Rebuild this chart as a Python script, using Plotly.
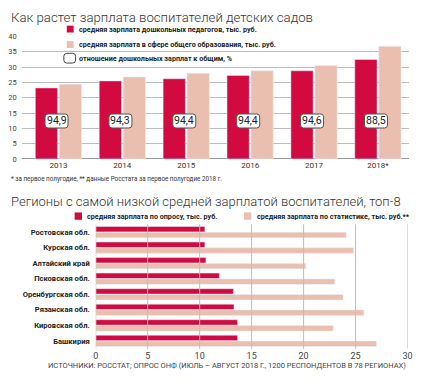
import plotly.graph_objects as go

# ---------- data ----------
years = ["2013", "2014", "2015", "2016", "2017", "2018*"]
preschool_salary = [23.2, 25.5, 26.2, 27.3, 28.8, 32.5]
general_salary = [24.4, 26.8, 28.0, 28.8, 30.5, 36.8]
ratio_labels = ["94,9", "94,3", "94,4", "94,4", "94,6", "88,5"]

regions = ["Ростовская обл.", "Курская обл.", "Алтайский край", "Псковская обл.",
           "Оренбургская обл.", "Рязанская обл.", "Кировская обл.", "Башкирия"]
survey_salary = [10.5, 10.5, 10.6, 11.9, 13.25, 13.3, 13.65, 13.65]
stat_salary = [24.1, 24.8, 20.2, 23.0, 23.8, 25.8, 22.85, 27.0]

RED = "#D20A3F"
PINK = "#EBBFAF"
GRID = "#BDBDBD"
TXT = "#333333"
FONT = "Roboto"

W, H = 425, 380


def fy(px):
    return 1 - px / H


def fx(px):
    return px / W


fig = go.Figure()

# top chart
fig.add_trace(go.Bar(x=years, y=preschool_salary, marker_color=RED, xaxis="x", yaxis="y",
                     showlegend=False, hoverinfo="x+y"))
fig.add_trace(go.Bar(x=years, y=general_salary, marker_color=PINK, xaxis="x", yaxis="y",
                     showlegend=False, hoverinfo="x+y"))

# bottom chart
fig.add_trace(go.Bar(y=regions, x=survey_salary, orientation="h", marker_color=RED,
                     xaxis="x2", yaxis="y2", showlegend=False))
fig.add_trace(go.Bar(y=regions, x=stat_salary, orientation="h", marker_color=PINK,
                     xaxis="x2", yaxis="y2", showlegend=False))

shapes = []
annotations = []

# ratio boxes (rounded)
bw, bh, r = 11.5, 7, 3
path = (f"M {-bw+r},{-bh} L {bw-r},{-bh} Q {bw},{-bh} {bw},{-bh+r} L {bw},{bh-r} "
        f"Q {bw},{bh} {bw-r},{bh} L {-bw+r},{bh} Q {-bw},{bh} {-bw},{bh-r} "
        f"L {-bw},{-bh+r} Q {-bw},{-bh} {-bw+r},{-bh} Z")
for i, lab in enumerate(ratio_labels):
    shapes.append(dict(type="path", xref="x", yref="y", xsizemode="pixel", ysizemode="pixel",
                       xanchor=i - 0.03, yanchor=12.4, path=path,
                       line=dict(color="#555555", width=1), fillcolor="white", layer="above"))
    annotations.append(dict(x=i - 0.03, y=12.4, xref="x", yref="y", text=lab, showarrow=False,
                            font=dict(family=FONT, size=10.5, color="#222222")))

# bottom gridlines above bars
for v in range(0, 31, 5):
    shapes.append(dict(type="line", xref="x2", yref="paper", x0=v, x1=v,
                       y0=fy(353), y1=fy(225.7), line=dict(color=GRID, width=1), layer="above"))

# titles
annotations.append(dict(x=fx(6), y=fy(13.5), xref="paper", yref="paper", xanchor="left",
                        yanchor="middle", showarrow=False,
                        text="Как растет зарплата воспитателей детских садов",
                        font=dict(family=FONT, size=13.2, color=TXT, weight=300)))
annotations.append(dict(x=fx(6), y=fy(202), xref="paper", yref="paper", xanchor="left",
                        yanchor="middle", showarrow=False,
                        text="Регионы с самой низкой средней зарплатой воспитателей, топ-8",
                        font=dict(family=FONT, size=13.0, color=TXT, weight=300)))

LEGSZ = 7.2
# top legend
leg_items = [("средняя зарплата дошкольных педагогов, тыс. руб.", RED, 25.7),
             ("средняя зарплата в сфере общего образования, тыс. руб.", PINK, 41.5)]
for txt, col, yc in leg_items:
    shapes.append(dict(type="rect", xref="paper", yref="paper", x0=fx(65), x1=fx(72),
                       y0=fy(yc + 3.5), y1=fy(yc - 3.5), fillcolor=col, line=dict(width=0)))
    annotations.append(dict(x=fx(75), y=fy(yc), xref="paper", yref="paper", xanchor="left",
                            yanchor="middle", showarrow=False, text=txt,
                            font=dict(family=FONT, size=LEGSZ, color="#222222", weight=700)))
yc = 55.5
x0p, x1p, y0p, y1p = 62, 74, yc - 5, yc + 5
rr = 3
shapes.append(dict(type="path", xref="paper", yref="paper",
                   path=(f"M {fx(x0p+rr)},{fy(y0p)} L {fx(x1p-rr)},{fy(y0p)} Q {fx(x1p)},{fy(y0p)} {fx(x1p)},{fy(y0p+rr)} "
                         f"L {fx(x1p)},{fy(y1p-rr)} Q {fx(x1p)},{fy(y1p)} {fx(x1p-rr)},{fy(y1p)} "
                         f"L {fx(x0p+rr)},{fy(y1p)} Q {fx(x0p)},{fy(y1p)} {fx(x0p)},{fy(y1p-rr)} "
                         f"L {fx(x0p)},{fy(y0p+rr)} Q {fx(x0p)},{fy(y0p)} {fx(x0p+rr)},{fy(y0p)} Z"),
                   line=dict(color="#444444", width=1), fillcolor="white"))
annotations.append(dict(x=fx(75), y=fy(yc), xref="paper", yref="paper", xanchor="left",
                        yanchor="middle", showarrow=False,
                        text="отношение дошкольных зарплат к общим, %",
                        font=dict(family=FONT, size=LEGSZ, color="#222222", weight=700)))

# bottom legend
for txt, col, xs in [("средняя зарплата по опросу, тыс. руб.", RED, 73),
                     ("средняя зарплата по статистике, тыс. руб.**", PINK, 245.5)]:
    shapes.append(dict(type="rect", xref="paper", yref="paper", x0=fx(xs), x1=fx(xs + 7.5),
                       y0=fy(221), y1=fy(213.5), fillcolor=col, line=dict(width=0)))
    annotations.append(dict(x=fx(xs + 11), y=fy(217.3), xref="paper", yref="paper",
                            xanchor="left", yanchor="middle", showarrow=False, text=txt,
                            font=dict(family=FONT, size=LEGSZ, color="#222222", weight=700)))

# footnote & source
annotations.append(dict(x=fx(6), y=fy(179), xref="paper", yref="paper", xanchor="left",
                        yanchor="middle", showarrow=False,
                        text="* за первое полугодие, ** данные Росстата за первое полугодие 2018 г.",
                        font=dict(family=FONT, size=6.3, color="#333333")))
annotations.append(dict(x=fx(412.5), y=fy(370), xref="paper", yref="paper", xanchor="right",
                        yanchor="middle", showarrow=False,
                        text="ИСТОЧНИКИ: РОССТАТ; ОПРОС ОНФ (ИЮЛЬ – АВГУСТ 2018 Г., 1200 РЕСПОНДЕНТОВ В 78 РЕГИОНАХ)",
                        font=dict(family=FONT, size=7.5, color="#444444")))

fig.update_layout(
    width=W, height=H, margin=dict(l=0, r=0, t=0, b=0),
    paper_bgcolor="white", plot_bgcolor="white",
    barmode="group", bargap=0.25, bargroupgap=0.07,
    font=dict(family=FONT, color=TXT),
    shapes=shapes, annotations=annotations,
    xaxis=dict(domain=[fx(19), fx(414)], anchor="y", type="category",
               range=[-0.576, 5.49], showgrid=False, showline=False, ticks="",
               tickfont=dict(size=8, color="#333333"), fixedrange=True),
    yaxis=dict(domain=[fy(158.7), fy(33.3)], anchor="x", range=[0, 40], dtick=5,
               showgrid=True, gridcolor=GRID, gridwidth=1, zeroline=True, zerolinecolor="#999999",
               zerolinewidth=1, ticks="", ticklabelstandoff=4,
               tickfont=dict(size=7.5, color="#444444"), fixedrange=True),
    xaxis2=dict(domain=[fx(94.5), fx(412.3)], anchor="y2", range=[0, 30], dtick=5,
                showgrid=False, zeroline=False, ticks="",
                tickfont=dict(size=9, color="#444444"), fixedrange=True),
    yaxis2=dict(domain=[fy(353), fy(225.7)], anchor="x2", type="category",
                autorange="reversed", showgrid=False, ticks="", ticklabelstandoff=5,
                tickfont=dict(family=FONT, size=7.6, color="#222222", weight=700), fixedrange=True),
)

fig.write_html("out.html", config={"displayModeBar": False},
               post_script="document.body.style.margin='0';document.body.style.overflow='hidden';")
